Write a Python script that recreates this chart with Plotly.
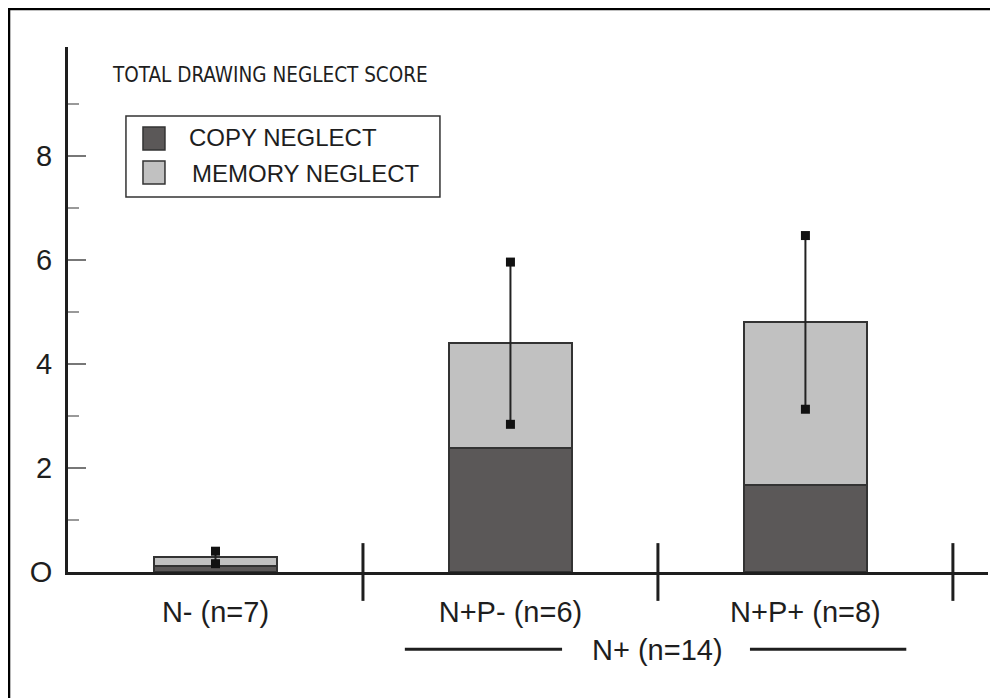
import plotly.graph_objects as go

# ---- data ----
groups = ["N- (n=7)", "N+P- (n=6)", "N+P+ (n=8)"]
copy_neglect = [0.12, 2.38, 1.68]
memory_neglect = [0.16, 2.02, 3.12]
total_sd = [0.12, 1.56, 1.67]
series_names = ["COPY NEGLECT", "MEMORY NEGLECT"]
series_colors = ["#5b5858", "#c1c1c1"]
y_tickvals = [0, 2, 4, 6, 8]
y_ticktext = ["O", "2", "4", "6", "8"]
y_minor = [1, 3, 5, 7, 9]
super_label = "N+ (n=14)"
super_members = [1, 2]
title_text = "TOTAL DRAWING NEGLECT SCORE"

FONT = "Liberation Sans, Arial, sans-serif"
NARROW = "DejaVu Sans Condensed, Liberation Sans Narrow, sans-serif"
INK = "#1e1e1e"

x = list(range(len(groups)))
totals = [c + m for c, m in zip(copy_neglect, memory_neglect)]

fig = go.Figure()
for name, vals, col in zip(series_names, [copy_neglect, memory_neglect], series_colors):
    fig.add_trace(go.Bar(
        x=x, y=vals, name=name, width=0.417,
        marker=dict(color=col, line=dict(color="#333333", width=2)),
        showlegend=False,
    ))

# error bars: total +/- sd with square end markers
ex, ey = [], []
for i, (t, s) in enumerate(zip(totals, total_sd)):
    ex += [i, i, None]
    ey += [t - s, t + s, None]
fig.add_trace(go.Scatter(
    x=ex, y=ey, mode="lines+markers", showlegend=False,
    line=dict(color="#222222", width=2),
    marker=dict(symbol="square", size=9, color="#111111"),
    cliponaxis=False,
))

shapes = []
# group separators crossing the x axis
for i in range(len(groups)):
    shapes.append(dict(type="line", xref="x", yref="paper",
                       x0=i + 0.5, x1=i + 0.5, y0=-0.055, y1=0.055,
                       line=dict(color=INK, width=3)))
# bracket lines for the N+ super group
mid = (super_members[0] + super_members[-1]) / 2
shapes.append(dict(type="line", xref="x", yref="paper",
                   x0=super_members[0] - 0.358, x1=mid - 0.325, y0=-0.147, y1=-0.147,
                   line=dict(color=INK, width=3)))
shapes.append(dict(type="line", xref="x", yref="paper",
                   x0=mid + 0.312, x1=super_members[-1] + 0.342, y0=-0.147, y1=-0.147,
                   line=dict(color=INK, width=3)))
# outer frame
shapes.append(dict(type="rect", xref="paper", yref="paper",
                   x0=-0.0641, x1=1.05, y0=-0.3, y1=1.0724,
                   line=dict(color="#000000", width=2.5), fillcolor="rgba(0,0,0,0)",
                   layer="below"))
# legend box and swatches
shapes.append(dict(type="rect", xref="paper", yref="paper",
                   x0=0.063, x1=0.4043, y0=0.7143, y1=0.8686,
                   line=dict(color="#333333", width=1.5), fillcolor="white"))
sw_y = [(0.8038, 0.8476), (0.739, 0.7829)]
for (y0, y1), col in zip(sw_y, series_colors):
    shapes.append(dict(type="rect", xref="paper", yref="paper",
                       x0=0.0815, x1=0.1054, y0=y0, y1=y1,
                       line=dict(color="#333333", width=1.5), fillcolor=col))

annotations = [
    dict(text=title_text, xref="paper", yref="paper", x=0.0457, y=0.9467,
         xanchor="left", yanchor="middle", showarrow=False,
         font=dict(family=NARROW, size=20.5, color=INK)),
    dict(text=super_label, xref="x", yref="paper", x=mid, y=-0.1486,
         xanchor="center", yanchor="middle", showarrow=False,
         font=dict(family=FONT, size=29, color=INK)),
]
leg_x = [0.1293, 0.1326]
leg_y = [0.8267, 0.76]
for name, lx, ly in zip(series_names, leg_x, leg_y):
    annotations.append(dict(text=name, xref="paper", yref="paper", x=lx, y=ly,
                            xanchor="left", yanchor="middle", showarrow=False,
                            font=dict(family=FONT, size=24, color=INK)))

fig.update_layout(
    width=998, height=698,
    margin=dict(l=60, r=18, t=39, b=134),
    paper_bgcolor="white", plot_bgcolor="white",
    barmode="stack", bargap=0,
    font=dict(family=FONT, color=INK),
    shapes=shapes, annotations=annotations,
    showlegend=False,
)
fig.update_xaxes(
    range=[-0.5, 2.619], tickvals=x, ticktext=groups, ticks="",
    showline=True, linecolor=INK, linewidth=3, showgrid=False, zeroline=False,
    tickfont=dict(family=FONT, size=29, color=INK), ticklabelstandoff=12,
)
fig.update_yaxes(
    range=[0, 10.096], tickvals=y_tickvals, ticktext=y_ticktext,
    ticks="inside", ticklen=18, tickwidth=2, tickcolor="#777777",
    minor=dict(tickvals=y_minor, ticks="inside", ticklen=11, tickwidth=2, tickcolor="#999999"),
    showline=True, linecolor=INK, linewidth=3, showgrid=False, zeroline=False,
    tickfont=dict(family=FONT, size=29, color=INK), ticklabelstandoff=7,
)

fig.write_html("out.html")
